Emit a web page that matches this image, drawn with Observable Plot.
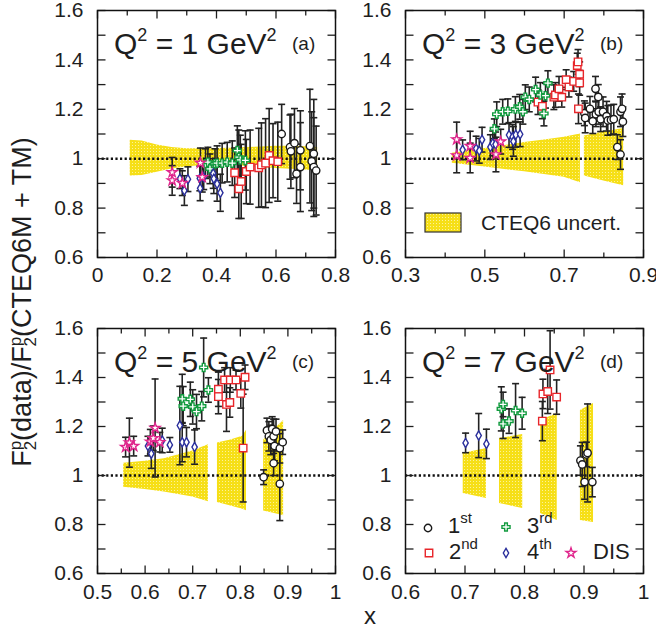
<!DOCTYPE html>
<html>
<head>
<meta charset="utf-8">
<script src="https://cdn.jsdelivr.net/npm/d3@7"></script>
<script src="https://cdn.jsdelivr.net/npm/@observablehq/plot@0.6"></script>
<style>
html,body{margin:0;padding:0;background:#fff;overflow:hidden}
#wrap{position:relative;width:656px;height:630px;overflow:hidden;font-family:"Liberation Sans",Arial,Helvetica,sans-serif}
.pnl{position:absolute}
.pnl svg{max-width:none}
#ann{position:absolute;left:0;top:0}
</style>
</head>
<body>
<div id="wrap"></div>
<script>
// ---------------- data ----------------
// tick values
const yTickLabels = [0.6, 0.8, 1, 1.2, 1.4, 1.6];
const yMinorTicks = [0.7, 0.9, 1.1, 1.3, 1.5];
const xLabelsA = [0, 0.2, 0.4, 0.6, 0.8],      xMinorA = [0.1, 0.3, 0.5, 0.7];
const xLabelsB = [0.3, 0.5, 0.7, 0.9],         xMinorB = [0.4, 0.6, 0.8];
const xLabelsC = [0.5, 0.6, 0.7, 0.8, 0.9, 1], xMinorC = [0.55, 0.65, 0.75, 0.85, 0.95];
const xLabelsD = [0.6, 0.7, 0.8, 0.9, 1],      xMinorD = [0.65, 0.75, 0.85, 0.95];
const q2Values = [1, 3, 5, 7];
const panelTags = ["(a)", "(b)", "(c)", "(d)"];
const legendOrdinals = ["1", "2", "3", "4", "DIS"];
const legendSuffixes = ["st", "nd", "rd", "th", ""];
const bandLegendText = "CTEQ6 uncert.";

// CTEQ6 uncertainty bands: [x, low, high, segment]
const bandA = [[0.11,0.930,1.075,0],[0.15,0.932,1.072,0],[0.20,0.945,1.055,0],[0.25,0.958,1.045,0],[0.30,0.966,1.040,0],
  [0.35,0.972,1.040,0],[0.40,0.975,1.041,0],[0.45,0.974,1.042,0],[0.50,0.968,1.045,0],[0.55,0.964,1.047,0],
  [0.60,0.960,1.050,0],[0.65,0.957,1.050,0],[0.70,0.954,1.048,0],[0.74,0.950,1.045,0]];
const bandB = [[0.418,0.982,1.022,0],[0.45,0.976,1.030,0],[0.50,0.966,1.041,0],[0.55,0.956,1.053,0],[0.60,0.947,1.066,0],
  [0.65,0.936,1.076,0],[0.70,0.925,1.087,0],[0.741,0.903,1.100,0],
  [0.751,0.930,1.092,1],[0.80,0.910,1.108,1],[0.85,0.890,1.122,1]];
const bandC = [[0.555,0.952,1.050,0],[0.60,0.943,1.058,0],[0.64,0.933,1.068,0],[0.70,0.912,1.100,0],[0.733,0.893,1.126,0],
  [0.752,0.890,1.133,1],[0.78,0.876,1.145,1],[0.805,0.862,1.160,1],[0.813,0.856,1.185,1],
  [0.849,0.855,1.145,2],[0.87,0.846,1.185,2],[0.891,0.836,1.224,2]];
const bandD = [[0.697,0.927,1.090,0],[0.736,0.906,1.110,0],
  [0.758,0.886,1.151,1],[0.797,0.865,1.167,1],
  [0.827,0.845,1.224,2],[0.855,0.816,1.253,2],
  [0.894,0.816,1.265,3],[0.916,0.808,1.294,3]];

// data points: [x, ratio, error]
const a1st = [[0.619,1.100,0.12],[0.647,1.047,0.13],[0.650,1.030,0.15],[0.662,1.063,0.14],[0.669,0.939,0.12],[0.682,0.966,0.18],
  [0.682,1.034,0.16],[0.714,1.051,0.23],[0.720,0.990,0.20],[0.727,1.020,0.22],[0.727,0.966,0.20],[0.735,0.952,0.18]];
const a2nd = [[0.461,0.943,0.10],[0.475,0.878,0.12],[0.483,0.908,0.15],[0.500,0.948,0.13],[0.513,0.966,0.15],[0.542,0.963,0.16],
  [0.551,0.975,0.17],[0.565,0.982,0.18],[0.577,1.013,0.19],[0.590,0.992,0.15],[0.606,0.988,0.16]];
const a3rd = [[0.363,0.980,0.06],[0.371,0.986,0.06],[0.378,0.959,0.06],[0.395,0.980,0.06],[0.402,0.982,0.07],[0.419,0.982,0.08],
  [0.436,0.986,0.08],[0.453,0.982,0.09],[0.470,1.033,0.10],[0.475,1.006,0.11],[0.480,0.995,0.10],[0.497,0.993,0.12]];
const a4th = [[0.277,0.919,0.04],[0.292,0.871,0.06],[0.304,0.917,0.05],[0.344,0.920,0.05],[0.345,0.880,0.05],[0.357,0.925,0.05],
  [0.389,0.940,0.06],[0.391,0.919,0.06],[0.402,0.898,0.07],[0.413,0.862,0.075]];
const aDIS = [[0.251,0.945,0.06],[0.251,0.912,0.06],[0.285,0.901,0.05],[0.346,0.983,0.06],[0.352,0.925,0.06]];

const b1st = [[0.751,1.184,0.05],[0.753,1.165,0.06],[0.765,1.202,0.05],[0.772,1.152,0.05],[0.779,1.283,0.05],[0.780,1.180,0.05],
  [0.786,1.250,0.05],[0.787,1.190,0.05],[0.792,1.160,0.05],[0.798,1.190,0.06],[0.807,1.172,0.06],[0.810,1.155,0.06],
  [0.818,1.157,0.06],[0.825,1.160,0.06],[0.842,1.190,0.06],[0.846,1.202,0.06],[0.848,1.150,0.06],[0.834,1.047,0.05],[0.842,1.017,0.06]];
const b2nd = [[0.634,1.229,0.05],[0.645,1.212,0.05],[0.674,1.249,0.05],[0.678,1.258,0.05],[0.687,1.283,0.05],[0.694,1.249,0.04],
  [0.705,1.320,0.04],[0.712,1.290,0.04],[0.724,1.313,0.04],[0.733,1.377,0.05],[0.735,1.392,0.05],[0.739,1.342,0.05],
  [0.739,1.307,0.05],[0.736,1.202,0.06]];
const b3rd = [[0.524,1.121,0.04],[0.530,1.180,0.05],[0.545,1.190,0.05],[0.558,1.192,0.05],[0.577,1.201,0.05],[0.588,1.210,0.05],
  [0.596,1.190,0.05],[0.602,1.249,0.05],[0.612,1.240,0.05],[0.628,1.280,0.05],[0.640,1.258,0.05],[0.649,1.183,0.05],
  [0.653,1.255,0.05],[0.659,1.306,0.05]];
const b4th = [[0.444,1.036,0.04],[0.478,1.041,0.05],[0.486,1.032,0.05],[0.493,1.077,0.05],[0.514,1.047,0.05],[0.520,1.062,0.05],
  [0.527,1.058,0.05],[0.561,1.096,0.05],[0.570,1.088,0.05],[0.572,1.070,0.06],[0.578,1.097,0.05],[0.589,1.099,0.05]];
const bDIS = [[0.429,1.078,0.07],[0.429,1.013,0.07],[0.463,1.051,0.06],[0.463,1.003,0.06],[0.528,1.017,0.07],[0.540,1.069,0.05]];

const c1st = [[0.849,0.993,0.03],[0.856,1.184,0.05],[0.860,1.160,0.06],[0.864,1.145,0.06],[0.867,1.190,0.05],[0.870,1.160,0.07],
  [0.872,1.120,0.06],[0.870,1.050,0.05],[0.875,1.180,0.05],[0.883,1.111,0.06],[0.883,0.966,0.15],[0.889,1.136,0.05]];
const c2nd = [[0.754,1.352,0.07],[0.754,1.322,0.07],[0.767,1.390,0.05],[0.771,1.290,0.11],[0.778,1.298,0.06],[0.779,1.390,0.05],
  [0.791,1.390,0.04],[0.801,1.335,0.06],[0.810,1.401,0.05],[0.806,1.112,0.22]];
const c3rd = [[0.678,1.313,0.10],[0.680,1.283,0.08],[0.695,1.311,0.07],[0.700,1.280,0.07],[0.708,1.261,0.07],[0.719,1.283,0.06],
  [0.723,1.441,0.12],[0.733,1.349,0.05]];
const c4th = [[0.606,1.120,0.04],[0.613,1.089,0.06],[0.636,1.143,0.05],[0.652,1.125,0.03],[0.673,1.204,0.16],[0.678,1.136,0.08],
  [0.687,1.136,0.06],[0.704,1.116,0.07]];
const cDIS = [[0.559,1.116,0.04],[0.567,1.134,0.10],[0.576,1.120,0.04],[0.611,1.138,0.05],[0.617,1.152,0.05],[0.621,1.194,0.20],[0.631,1.136,0.04]];

const d1st = [[0.894,1.061,0.06],[0.897,1.045,0.09],[0.901,0.973,0.07],[0.904,1.086,0.05],[0.906,1.092,0.20],[0.914,0.973,0.06]];
const d2nd = [[0.830,1.222,0.08],[0.831,1.333,0.06],[0.839,1.343,0.09],[0.843,1.431,0.16],[0.854,1.320,0.07]];
const d3rd = [[0.761,1.272,0.09],[0.764,1.290,0.05],[0.764,1.211,0.06],[0.774,1.222,0.05],[0.785,1.265,0.11],[0.796,1.254,0.065]];
const d4th = [[0.701,1.133,0.04],[0.723,1.163,0.09],[0.736,1.129,0.06]];
const dDIS = [];

// ---------------- styling / layout ----------------
const SERIES = [
  {key: "first",  symbol: "circle",  color: "#1a1a1a", r: 3.7},
  {key: "second", symbol: "square",  color: "#e8262b", r: 4.2},
  {key: "third",  symbol: "cross",   color: "#129b3f", r: 3.4},
  {key: "fourth", symbol: "diamond", color: "#2a2f9c", r: 2.8},
  {key: "dis",    symbol: "star",    color: "#e0258c", r: 3.1}
];
const symMap = {circle: d3.symbolCircle, square: d3.symbolSquare, cross: d3.symbolCross, diamond: d3.symbolDiamond, star: d3.symbolStar};

const PANELS = [
  {fl: 97,  ft: 10,  ph: 247, dom: [0, 0.8],   labels: xLabelsA, minor: xMinorA, band: bandA, data: {first: a1st, second: a2nd, third: a3rd, fourth: a4th, dis: aDIS}},
  {fl: 405, ft: 10,  ph: 247, dom: [0.3, 0.9], labels: xLabelsB, minor: xMinorB, band: bandB, data: {first: b1st, second: b2nd, third: b3rd, fourth: b4th, dis: bDIS}},
  {fl: 97,  ft: 328, ph: 245, dom: [0.5, 1],   labels: xLabelsC, minor: xMinorC, band: bandC, data: {first: c1st, second: c2nd, third: c3rd, fourth: c4th, dis: cDIS}},
  {fl: 405, ft: 328, ph: 245, dom: [0.6, 1],   labels: xLabelsD, minor: xMinorD, band: bandD, data: {first: d1st, second: d2nd, third: d3rd, fourth: d4th, dis: dDIS}}
];
const PW = 238, ML = 50, MR = 20, MT = 10, MB = 45;
const FONT = "'Liberation Sans', Arial, Helvetica, sans-serif";
const INK = "#1e1e1e";

const wrap = document.getElementById("wrap");

// hidden defs: dotted yellow fill pattern
const defs = document.createElementNS("http://www.w3.org/2000/svg", "svg");
defs.setAttribute("width", 0); defs.setAttribute("height", 0);
defs.style.position = "absolute";
defs.innerHTML = `<defs><pattern id="cteqDots" width="3" height="3" patternUnits="userSpaceOnUse">
<rect width="3" height="3" fill="#f6df17"/><rect x="1" y="1" width="1" height="1" fill="#fcf29a"/></pattern></defs>`;
wrap.appendChild(defs);

// custom symbols (pixel sized)
const capSym = {draw(ctx) { ctx.moveTo(-3.5, 0); ctx.lineTo(3.5, 0); }};
const lineSym = (dx, dy) => ({draw(ctx) { ctx.moveTo(0, 0); ctx.lineTo(dx, dy); }});

function drawPanel(p) {
  const bandRows = p.band.map(([x, lo, hi, seg]) => ({x, lo, hi, seg}));
  const pts = [];
  SERIES.forEach(s => (p.data[s.key] || []).forEach(([x, y, e]) => pts.push({x, y, e, s: s.key})));
  const tickStyle = {stroke: INK, strokeWidth: 1.3, fill: "none", r: 1};
  const barStyle = {stroke: "#222", strokeWidth: 1.6};
  const marks = [
    Plot.areaY(bandRows, {x: "x", y1: "lo", y2: "hi", z: "seg", fill: "url(#cteqDots)"}),
    Plot.ruleY([1], {stroke: "#111", strokeWidth: 2.6, strokeDasharray: "2.2,2.4"}),
    Plot.ruleX(pts, {x: "x", y1: d => d.y - d.e, y2: d => d.y + d.e, ...barStyle}),
    Plot.dot(pts, {x: "x", y: d => d.y - d.e, symbol: capSym, r: 3, fill: "none", ...barStyle}),
    Plot.dot(pts, {x: "x", y: d => d.y + d.e, symbol: capSym, r: 3, fill: "none", ...barStyle})
  ];
  SERIES.forEach(s => {
    const rows = pts.filter(d => d.s === s.key);
    if (rows.length) marks.push(Plot.dot(rows, {x: "x", y: "y", symbol: s.symbol, r: s.r, stroke: s.color, strokeWidth: 1.4, fill: "white"}));
  });
  marks.push(
    Plot.dot(p.labels, {x: d => d, frameAnchor: "bottom", symbol: lineSym(0, -8), ...tickStyle}),
    Plot.dot(p.minor,  {x: d => d, frameAnchor: "bottom", symbol: lineSym(0, -5), ...tickStyle}),
    Plot.dot(p.labels, {x: d => d, frameAnchor: "top", symbol: lineSym(0, 8), ...tickStyle}),
    Plot.dot(p.minor,  {x: d => d, frameAnchor: "top", symbol: lineSym(0, 5), ...tickStyle}),
    Plot.dot(yTickLabels.concat(yMinorTicks), {y: d => d, frameAnchor: "left", symbol: lineSym(8, 0), ...tickStyle}),
    Plot.dot(yTickLabels.concat(yMinorTicks), {y: d => d, frameAnchor: "right", symbol: lineSym(-8, 0), ...tickStyle}),
    Plot.axisX(p.labels, {anchor: "bottom", tickSize: 0, tickPadding: p.ft > 100 ? 11 : 10, tickFormat: d => String(d), label: null}),
    Plot.axisY(yTickLabels, {anchor: "left", tickSize: 0, tickPadding: 14, tickFormat: d => String(d), label: null}),
    Plot.frame({stroke: "#111", strokeWidth: 1.5})
  );
  const svg = Plot.plot({
    width: ML + PW + MR, height: MT + p.ph + MB,
    marginLeft: ML, marginRight: MR, marginTop: MT, marginBottom: MB,
    x: {domain: p.dom, label: null},
    y: {domain: [0.6, 1.6], label: null},
    style: {fontFamily: FONT, fontSize: "21px", color: INK, background: "transparent", overflow: "visible"},
    marks
  });
  const div = document.createElement("div");
  div.className = "pnl";
  div.style.left = (p.fl - ML) + "px";
  div.style.top = (p.ft - MT) + "px";
  div.style.width = (ML + PW + MR) + "px";
  div.appendChild(svg);
  wrap.appendChild(div);
}
PANELS.forEach(drawPanel);

// ---------------- annotations overlay ----------------
const ann = d3.select(wrap).append("svg").attr("id", "ann").attr("width", 656).attr("height", 630)
  .style("font-family", FONT).style("white-space", "pre").attr("fill", INK);

PANELS.forEach((p, i) => {
  const t = ann.append("text").attr("x", p.fl + 17).attr("y", p.ft + 43.5).attr("font-size", 30);
  t.append("tspan").text("Q");
  t.append("tspan").attr("font-size", 18).attr("dy", -13).text("2");
  t.append("tspan").attr("dy", 13).text(` = ${q2Values[i]} GeV`);
  t.append("tspan").attr("font-size", 18).attr("dy", -13).text("2");
  ann.append("text").attr("x", p.fl + 195).attr("y", p.ft + 40).attr("font-size", 19).text(panelTags[i]);
});

// CTEQ6 band legend in panel (b)
ann.append("rect").attr("x", 425).attr("y", 213).attr("width", 36).attr("height", 19)
  .attr("fill", "url(#cteqDots)").attr("stroke", "#333").attr("stroke-width", 1.2);
ann.append("text").attr("x", 481).attr("y", 230).attr("font-size", 21).text(bandLegendText);

// marker legend in panel (d)
const legPos = [[428, 528, 448, 533], [429, 553, 449, 559], [506, 527, 527, 533], [506, 553, 527, 559], [571, 553, 593, 559]];
SERIES.forEach((s, i) => {
  const [mx, my, tx, ty] = legPos[i];
  ann.append("path").attr("d", d3.symbol(symMap[s.symbol], Math.PI * s.r * s.r)())
    .attr("transform", `translate(${mx},${my})`).attr("fill", "white").attr("stroke", s.color).attr("stroke-width", 1.4);
  const t = ann.append("text").attr("x", tx).attr("y", ty).attr("font-size", 22);
  t.append("tspan").text(legendOrdinals[i]);
  if (legendSuffixes[i]) t.append("tspan").attr("font-size", 15).attr("dy", -10).text(legendSuffixes[i]);
});

// axis titles
const yl = ann.append("text").attr("transform", "translate(31,302) rotate(-90)").attr("text-anchor", "middle").attr("font-size", 27);
function stackF(sel) {
  sel.append("tspan").attr("font-size", 17).attr("dy", -10).text("p");
  sel.append("tspan").attr("font-size", 17).attr("dx", -9.5).attr("dy", 15).text("2");
}
yl.append("tspan").text("F");
stackF(yl);
yl.append("tspan").attr("dy", -5).text("(data)/F");
stackF(yl);
yl.append("tspan").attr("dy", -5).text("(CTEQ6M + TM)");

ann.append("text").attr("x", 370).attr("y", 624).attr("text-anchor", "middle").attr("font-size", 24).text("x");
</script>
</body>
</html>
